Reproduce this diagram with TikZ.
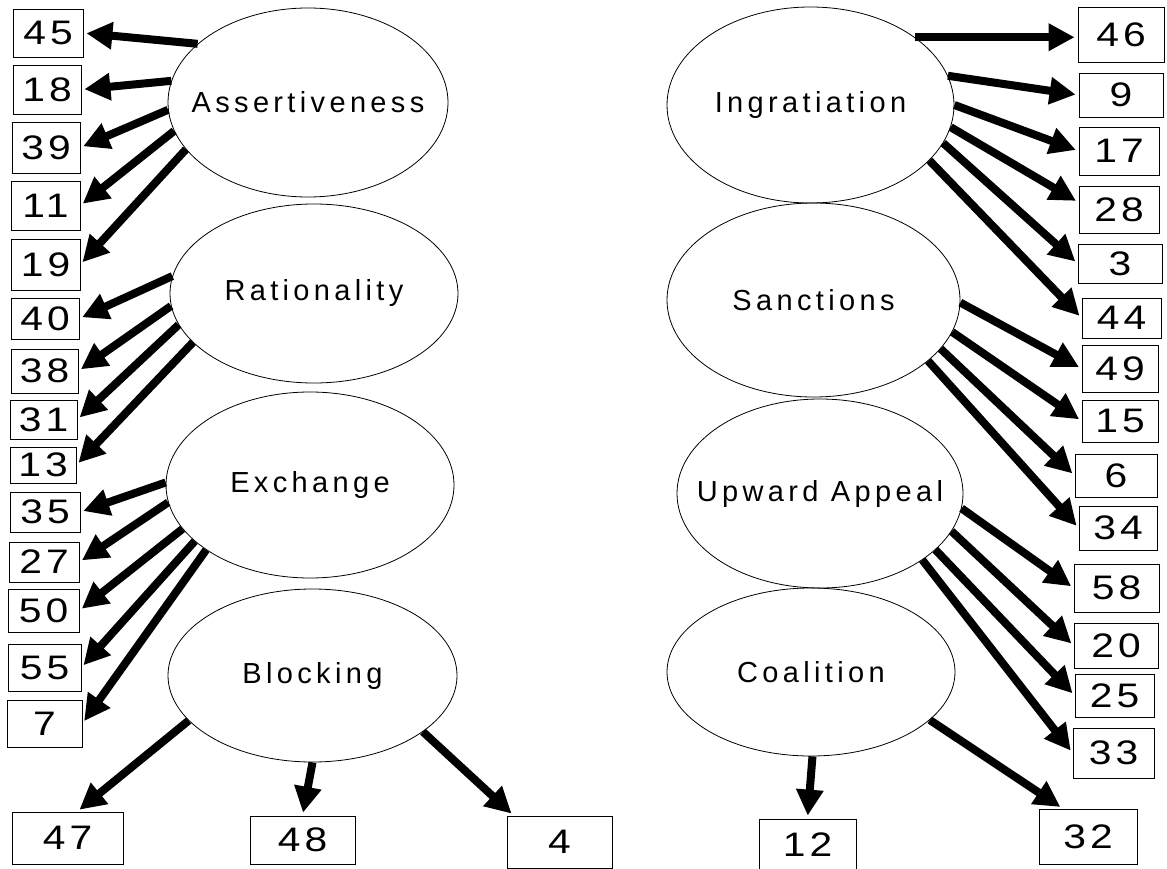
\documentclass[tikz,border=0pt]{standalone}
\usepackage{fontspec}
\setmainfont{Liberation Sans}
\newfontfamily\lblfont[LetterSpace=15]{Liberation Sans}
\newfontfamily\numfont[FakeStretch=1.2,LetterSpace=12]{Liberation Sans}
\usetikzlibrary{shapes.geometric,arrows.meta}
\tikzset{>=latex}

\begin{document}
\begin{tikzpicture}[
    x=1pt, y=-1pt,
    factor/.style={draw, ellipse, line width=0.8pt, inner sep=0pt},
    every label/.style={font=\lblfont\fontsize{29}{29}\selectfont},
    item/.style={draw, rectangle, line width=0.8pt, inner sep=0pt, font=\numfont\fontsize{34}{34}\selectfont},
    load/.style={line width=8pt, shorten >=3pt, -{Triangle[length=26pt,width=26pt]}}
]
    \useasboundingbox (0,0) rectangle (1167,869);

    % Factors
    \node (Ass) [factor, minimum width=280pt, minimum height=189pt, label=center:Assertiveness] at (308,102.5) {};
    \node (Rat) [factor, minimum width=288pt, minimum height=179pt, label=center:Rationality] at (314,293.5) {};
    \node (Exc) [factor, minimum width=288pt, minimum height=186pt, label=center:Exchange] at (310,485) {};
    \node (Blo) [factor, minimum width=289pt, minimum height=173pt, label=center:Blocking] at (312.5,675.5) {};
    \node (Ing) [factor, minimum width=287pt, minimum height=196pt, label=center:Ingratiation] at (810.5,105) {};
    \node (San) [factor, minimum width=293pt, minimum height=194pt, label=center:Sanctions] at (813.5,300) {};
    \node (Upw) [factor, minimum width=286pt, minimum height=189pt, label=center:Upward Appeal] at (820,493.5) {};
    \node (Coa) [factor, minimum width=288pt, minimum height=168pt, label=center:Coalition] at (811,672) {};

    % Items, left column
    \node (n45) [item, minimum width=70pt, minimum height=48pt] at (48,33) {45};
    \node (n18) [item, minimum width=68pt, minimum height=49pt] at (47,89.5) {18};
    \node (n39) [item, minimum width=68pt, minimum height=51pt] at (46,147.5) {39};
    \node (n11) [item, minimum width=69pt, minimum height=49pt] at (45.5,205.5) {11};
    \node (n19) [item, minimum width=69pt, minimum height=51pt] at (45.5,264.5) {19};
    \node (n40) [item, minimum width=68pt, minimum height=41pt] at (45,318.5) {40};
    \node (n38) [item, minimum width=67pt, minimum height=44pt] at (44.5,371) {38};
    \node (n31) [item, minimum width=67pt, minimum height=39pt] at (43.5,419.5) {31};
    \node (n13) [item, minimum width=66pt, minimum height=36pt] at (43,465) {13};
    \node (n35) [item, minimum width=70pt, minimum height=40pt] at (45,512) {35};
    \node (n27) [item, minimum width=70pt, minimum height=40pt] at (44,562) {27};
    \node (n50) [item, minimum width=71pt, minimum height=43pt] at (43.5,610.5) {50};
    \node (n55) [item, minimum width=73pt, minimum height=47pt] at (44.5,667.5) {55};
    \node (n7) [item, minimum width=75pt, minimum height=47pt] at (44.5,723.5) {7};

    % Items, bottom row
    \node (n47) [item, minimum width=111pt, minimum height=52pt] at (67.5,838) {47};
    \node (n48) [item, minimum width=105pt, minimum height=48pt] at (302.5,840) {48};
    \node (n4) [item, minimum width=105pt, minimum height=52pt] at (559.5,842) {4};
    \node (n12) [item, minimum width=97pt, minimum height=52pt] at (807.5,845) {12};
    \node (n32) [item, minimum width=98pt, minimum height=55pt] at (1088,836.5) {32};

    % Items, right column
    \node (n46) [item, minimum width=86pt, minimum height=55pt] at (1121,34.5) {46};
    \node (n9) [item, minimum width=84pt, minimum height=44pt] at (1121,95) {9};
    \node (n17) [item, minimum width=80pt, minimum height=48pt] at (1119,151) {17};
    \node (n28) [item, minimum width=80pt, minimum height=47pt] at (1119,209.5) {28};
    \node (n3) [item, minimum width=84pt, minimum height=39pt] at (1120,263.5) {3};
    \node (n44) [item, minimum width=79pt, minimum height=40pt] at (1121.5,318) {44};
    \node (n49) [item, minimum width=76pt, minimum height=47pt] at (1120,368.5) {49};
    \node (n15) [item, minimum width=76pt, minimum height=42pt] at (1120,421) {15};
    \node (n6) [item, minimum width=82pt, minimum height=43pt] at (1116,475.5) {6};
    \node (n34) [item, minimum width=78pt, minimum height=44pt] at (1118,528) {34};
    \node (n58) [item, minimum width=85pt, minimum height=48pt] at (1116.5,588) {58};
    \node (n20) [item, minimum width=84pt, minimum height=45pt] at (1116,645.5) {20};
    \node (n25) [item, minimum width=79pt, minimum height=43pt] at (1114.5,695.5) {25};
    \node (n33) [item, minimum width=81pt, minimum height=50pt] at (1113.5,753) {33};

    % Arrows, left
    \draw[load] (Ass.152) -- (n45.east);
    \draw[load] (Ass.171) -- (n18.east);
    \draw[load] (Ass.183) -- (n39.east);
    \draw[load] (Ass.192) -- (n11.east);
    \draw[load] (Ass.201) -- (n19.east);
    \draw[load] (Rat.173) -- (n40.east);
    \draw[load] (Rat.185) -- (n38.east);
    \draw[load] (Rat.193) -- (n31.east);
    \draw[load] (Rat.202) -- (n13.east);
    \draw[load] (Exc.179) -- (n35.east);
    \draw[load] (Exc.187) -- (n27.east);
    \draw[load] (Exc.199) -- (n50.east);
    \draw[load] (Exc.206) -- (n55.east);
    \draw[load] (Exc.212) -- (n7.east);
    \draw[load] (Blo.200) -- (n47.70);
    \draw[load] (Blo.270) -- (n48.north);
    \draw[load] (Blo.333) -- (n4.150);

    % Arrows, right
    \draw[load] (Ing.33) -- (Ing.33 -| n46.west);
    \draw[load] (Ing.12) -- (n9.west);
    \draw[load] (Ing.0) -- (n17.west);
    \draw[load] (Ing.351) -- (n28.170);
    \draw[load] (Ing.344) -- (n3.west);
    \draw[load] (Ing.335) -- (n44.west);
    \draw[load] (San.359) -- (n49.west);
    \draw[load] (San.347) -- (n15.west);
    \draw[load] (San.339) -- (n6.west);
    \draw[load] (San.332) -- (n34.west);
    \draw[load] (Upw.354) -- (n58.west);
    \draw[load] (Upw.344) -- (n20.west);
    \draw[load] (Upw.334) -- (n25.west);
    \draw[load] (Upw.327) -- (n33.west);
    \draw[load] (Coa.271) -- (n12.north);
    \draw[load] (Coa.338) -- (n32.132);
\end{tikzpicture}
\end{document}
